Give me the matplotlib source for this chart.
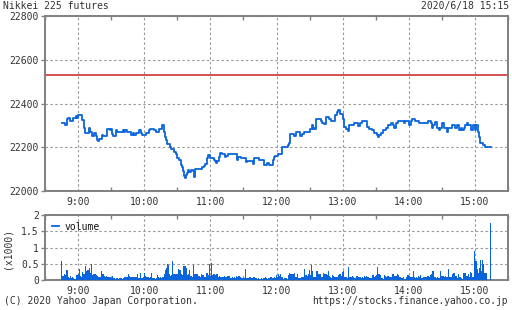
import numpy as np
import matplotlib
matplotlib.use('Agg')
import matplotlib.pyplot as plt

# price: minutes from 9:00 where the price changes, and the new price
px_min = [-15, -12, -10, -9, -7, -5, -2, -1, 0, 4, 5, 6, 10, 11, 13, 14, 16, 17, 18, 19,
          20, 22, 23, 26, 29, 30, 31, 32, 34, 35, 41, 42, 43, 44, 48, 50, 51, 53, 55, 57,
          58, 62, 64, 65, 69, 71, 73, 76, 78, 79, 80, 81, 83, 84, 87, 89, 90, 92, 93, 94,
          95, 96, 97, 98, 99, 100, 101, 102, 104, 105, 106, 112, 114, 115, 117, 118, 120, 123, 124, 125,
          126, 128, 129, 131, 133, 134, 136, 139, 144, 145, 148, 152, 153, 159, 160, 164, 169, 171, 173, 177,
          178, 179, 181, 185, 190, 191, 192, 196, 198, 201, 203, 205, 210, 212, 213, 214, 215, 216, 220, 221,
          223, 225, 228, 229, 233, 235, 236, 238, 240, 241, 243, 245, 246, 250, 254, 256, 258, 262, 264, 267,
          268, 271, 272, 273, 275, 277, 279, 281, 284, 286, 287, 288, 290, 296, 297, 300, 302, 303, 306, 309,
          317, 320, 321, 322, 324, 326, 327, 328, 330, 332, 335, 336, 339, 342, 344, 346, 347, 348, 350, 351,
          353, 354, 356, 358, 360, 361, 363, 364, 365, 367, 369, 375]
px_val = [22309, 22300, 22328, 22334, 22322, 22334, 22343, 22334, 22349, 22325, 22290, 22264, 22290, 22270, 22251, 22267, 22251, 22235, 22227, 22240,
          22239, 22258, 22251, 22285, 22277, 22285, 22260, 22251, 22277, 22270, 22277, 22270, 22277, 22270, 22258, 22267, 22258, 22267, 22277, 22267,
          22258, 22265, 22277, 22285, 22280, 22270, 22283, 22300, 22270, 22247, 22232, 22216, 22201, 22192, 22180, 22168, 22149, 22140, 22119, 22110,
          22091, 22070, 22061, 22073, 22082, 22097, 22085, 22097, 22091, 22065, 22100, 22110, 22116, 22122, 22149, 22164, 22152, 22143, 22137, 22128,
          22137, 22155, 22174, 22168, 22155, 22161, 22171, 22168, 22143, 22155, 22149, 22131, 22137, 22125, 22149, 22143, 22119, 22128, 22119, 22143,
          22154, 22160, 22169, 22200, 22212, 22221, 22260, 22251, 22270, 22251, 22260, 22270, 22285, 22300, 22282, 22290, 22282, 22328, 22321, 22312,
          22306, 22337, 22328, 22318, 22349, 22361, 22370, 22352, 22328, 22294, 22285, 22276, 22300, 22309, 22297, 22309, 22318, 22294, 22285, 22279,
          22267, 22254, 22248, 22254, 22264, 22279, 22288, 22300, 22309, 22300, 22288, 22309, 22318, 22309, 22318, 22300, 22318, 22328, 22318, 22309,
          22318, 22309, 22288, 22300, 22315, 22288, 22279, 22288, 22309, 22288, 22270, 22288, 22300, 22288, 22300, 22279, 22288, 22279, 22288, 22300,
          22309, 22300, 22279, 22300, 22279, 22300, 22270, 22248, 22218, 22212, 22200, 22200]
prev_close = 22530

# volume per minute (x1000), 8:45 .. 15:14
vol_0845 = [0.57, 0.11, 0.12, 0.20, 0.16, 0.32, 0.10, 0.05, 0.13, 0.07, 0.08, 0.06, 0.04, 0.03, 0.15]
vol_0900 = [0.20, 0.34, 0.12, 0.10, 0.25, 0.20, 0.20, 0.42, 0.28, 0.30,
            0.36, 0.23, 0.48, 0.15, 0.20, 0.17, 0.20, 0.15, 0.12, 0.09,
            0.10, 0.28, 0.20, 0.20, 0.12, 0.10, 0.11, 0.09, 0.08, 0.10,
            0.05, 0.13, 0.05, 0.06, 0.04, 0.06, 0.05, 0.03, 0.05, 0.07,
            0.04, 0.05, 0.09, 0.08, 0.10, 0.09, 0.20, 0.12, 0.10, 0.09,
            0.08, 0.10, 0.08, 0.10, 0.17, 0.07, 0.05, 0.22, 0.06, 0.08]
vol_1000 = [0.22, 0.13, 0.08, 0.10, 0.09, 0.07, 0.10, 0.23, 0.06, 0.05,
            0.04, 0.05, 0.15, 0.08, 0.07, 0.08, 0.06, 0.10, 0.20, 0.30,
            0.38, 0.50, 0.45, 0.20, 0.13, 0.14, 0.57, 0.20, 0.18, 0.17,
            0.18, 0.34, 0.32, 0.30, 0.17, 0.15, 0.44, 0.42, 0.38, 0.16,
            0.17, 0.30, 0.12, 0.13, 0.10, 0.46, 0.20, 0.19, 0.17, 0.13,
            0.12, 0.10, 0.17, 0.16, 0.15, 0.10, 0.08, 0.22, 0.15, 0.50]
vol_1100 = [0.12, 0.52, 0.16, 0.17, 0.20, 0.15, 0.17, 0.10, 0.11, 0.09,
            0.08, 0.10, 0.09, 0.12, 0.08, 0.09, 0.13, 0.12, 0.07, 0.06,
            0.08, 0.07, 0.10, 0.06, 0.12, 0.10, 0.11, 0.08, 0.06, 0.07,
            0.05, 0.06, 0.34, 0.07, 0.06, 0.05, 0.08, 0.05, 0.07, 0.10,
            0.09, 0.05, 0.06, 0.04, 0.05, 0.03, 0.06, 0.04, 0.07, 0.05,
            0.08, 0.06, 0.04, 0.07, 0.05, 0.09, 0.06, 0.05, 0.10, 0.06]
vol_1200 = [0.14, 0.10, 0.18, 0.12, 0.18, 0.10, 0.04, 0.06, 0.05, 0.06,
            0.04, 0.14, 0.22, 0.20, 0.20, 0.19, 0.22, 0.10, 0.10, 0.20,
            0.06, 0.05, 0.06, 0.08, 0.10, 0.33, 0.14, 0.15, 0.12, 0.20,
            0.30, 0.14, 0.47, 0.27, 0.09, 0.10, 0.27, 0.27, 0.20, 0.18,
            0.17, 0.10, 0.08, 0.22, 0.18, 0.20, 0.15, 0.29, 0.12, 0.10,
            0.06, 0.14, 0.12, 0.08, 0.10, 0.08, 0.14, 0.18, 0.17, 0.12]
vol_1300 = [0.24, 0.29, 0.10, 0.10, 0.05, 0.39, 0.10, 0.08, 0.09, 0.12,
            0.10, 0.06, 0.05, 0.12, 0.10, 0.08, 0.10, 0.06, 0.08, 0.05,
            0.12, 0.10, 0.12, 0.10, 0.06, 0.05, 0.06, 0.14, 0.14, 0.10,
            0.12, 0.15, 0.39, 0.18, 0.14, 0.05, 0.06, 0.04, 0.14, 0.12,
            0.08, 0.12, 0.12, 0.10, 0.10, 0.17, 0.18, 0.12, 0.12, 0.12,
            0.18, 0.16, 0.10, 0.06, 0.05, 0.08, 0.04, 0.03, 0.08, 0.14]
vol_1400 = [0.14, 0.12, 0.10, 0.10, 0.27, 0.08, 0.06, 0.08, 0.06, 0.12,
            0.10, 0.14, 0.06, 0.08, 0.10, 0.10, 0.08, 0.12, 0.12, 0.08,
            0.14, 0.20, 0.29, 0.10, 0.08, 0.06, 0.08, 0.06, 0.05, 0.29,
            0.12, 0.12, 0.10, 0.12, 0.10, 0.08, 0.33, 0.10, 0.10, 0.08,
            0.18, 0.22, 0.12, 0.12, 0.06, 0.20, 0.08, 0.08, 0.06, 0.04,
            0.22, 0.22, 0.12, 0.12, 0.20, 0.10, 0.24, 0.22, 0.10, 0.10]
vol_1500 = [0.88, 0.59, 0.35, 0.22, 0.37, 0.61, 0.28, 0.61, 0.49, 0.22,
            0.22, 0.00, 0.00, 0.00, 1.75]

hour_ticks = [0, 60, 120, 180, 240, 300, 360]
hour_labels = ['9:00', '10:00', '11:00', '12:00', '13:00', '14:00', '15:00']
half_ticks = [-30, 30, 90, 150, 210, 270, 330, 390]

vol = vol_0845 + vol_0900 + vol_1000 + vol_1100 + vol_1200 + vol_1300 + vol_1400 + vol_1500
vol_min = np.arange(-15, -15 + len(vol))

blue = '#0a64dc'
gray = '#808080'
txt = '#333333'

plt.rcParams['font.family'] = 'DejaVu Sans Mono'
plt.rcParams['font.size'] = 7

fig = plt.figure(figsize=(5.12, 3.10), dpi=100)
ax = fig.add_axes([45/512, 1-191/310, 463/512, 175/310])
ax2 = fig.add_axes([45/512, 1-280/310, 463/512, 65/310])

for a in (ax, ax2):
    a.set_xlim(-30, 387)
    a.set_xticks(hour_ticks)
    a.set_xticklabels(hour_labels)
    a.set_xticks(half_ticks, minor=True)
    a.tick_params(axis='x', which='major', length=0, pad=4, colors=txt, labelsize=7)
    a.tick_params(axis='x', which='minor', direction='in', length=3, color=gray,
                  top=True, bottom=True, width=1)
    a.tick_params(axis='y', length=3, width=1, color=gray, pad=1.5, colors=txt, labelsize=7)
    a.grid(True, which='major', color='#999999', linestyle=(0, (2.2, 2.2)), linewidth=0.8)
    a.set_axisbelow(True)
    for s in a.spines.values():
        s.set_color(gray)
        s.set_linewidth(1.4)

ax.axhline(prev_close, color='#cc3333', linewidth=1.2, zorder=2)
ax.step(px_min, px_val, where='post', color=blue, linewidth=1.3, zorder=3)
ax.set_ylim(22000, 22800)
ax.set_yticks([22000, 22200, 22400, 22600, 22800])

ax2.bar(vol_min, vol, width=1.0, color=blue, linewidth=0, zorder=3)
ax2.set_ylim(0, 2)
ax2.set_yticks([0, 0.5, 1, 1.5, 2])
ax2.set_yticklabels(['0', '0.5', '1', '1.5', '2'])
ax2.plot([], [], color=blue, linewidth=1.3, label='volume')
ax2.legend(loc='upper left', frameon=False, handlelength=0.7,
           handletextpad=0.6, borderaxespad=0.3, fontsize=7, labelcolor='#111111')

fig.text(3/512, 1-6/310, 'Nikkei 225 futures', ha='left', va='center', color=txt, fontsize=7)
fig.text(509/512, 1-6/310, '2020/6/18 15:15', ha='right', va='center', color=txt, fontsize=7)
fig.text(4/512, 1-301/310, '(C) 2020 Yahoo Japan Corporation.', ha='left', va='center', color=txt, fontsize=7)
fig.text(508/512, 1-301/310, 'https://stocks.finance.yahoo.co.jp', ha='right', va='center', color=txt, fontsize=6.9)
fig.text(7/512, 1-248/310, '(x1000)', ha='center', va='center', rotation=90, color=txt, fontsize=7)

fig.savefig('out.png', dpi=100, facecolor='white')
